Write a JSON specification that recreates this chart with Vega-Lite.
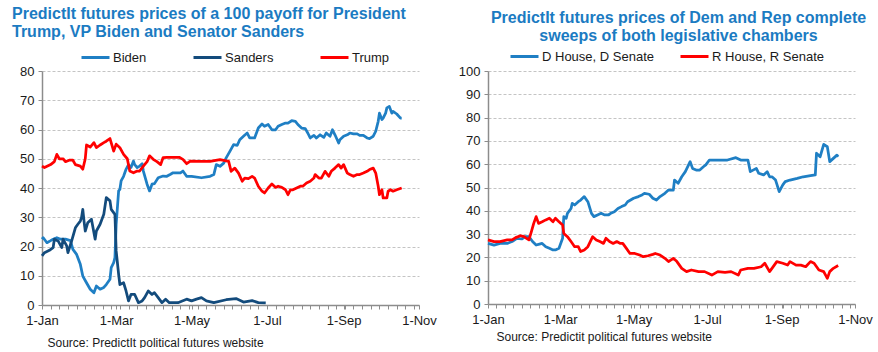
{
"$schema":"https://vega.github.io/schema/vega-lite/v6.json",
"background":"white",
"padding":{"left":12,"top":5,"right":4,"bottom":0},
"spacing":21,
"config":{
"font":"Liberation Sans",
"view":{"stroke":null},
"axis":{"labelFont":"Liberation Sans","labelFontSize":13,"labelColor":"#1a1a1a","domainColor":"#8c8c8c","tickColor":"#8c8c8c","titleFont":"Liberation Sans","titleFontWeight":"normal","titleFontSize":12,"titleColor":"#1a1a1a"},
"axisY":{"grid":true,"gridColor":"#c4c4c4","gridDash":[3,2],"tickSize":4,"labelPadding":4,"domainWidth":1.5},
"axisX":{"grid":false,"tickSize":4,"labelPadding":5,"labelOverlap":false,"labelFlush":false,"domainWidth":1.5},
"legend":{"symbolType":"stroke","symbolStrokeWidth":3,"symbolSize":784,"labelFont":"Liberation Sans","labelFontSize":13,"labelColor":"#1a1a1a","labelOffset":2,"direction":"horizontal","orient":"none","title":null},
"title":{"font":"Liberation Sans","fontSize":16,"fontWeight":"bold","color":"#1B7BC2","lineHeight":18.5}
},
"datasets":{
"L":[
{"d":"2020-01-01","s":"Biden","v":22.5},{"d":"2020-01-02","s":"Biden","v":23},{"d":"2020-01-05","s":"Biden","v":21.3},{"d":"2020-01-08","s":"Biden","v":22},{"d":"2020-01-10","s":"Biden","v":22.5},{"d":"2020-01-13","s":"Biden","v":23},{"d":"2020-01-16","s":"Biden","v":22.5},{"d":"2020-01-20","s":"Biden","v":22.5},{"d":"2020-01-24","s":"Biden","v":22},{"d":"2020-01-26","s":"Biden","v":19},{"d":"2020-01-29","s":"Biden","v":17.3},{"d":"2020-02-01","s":"Biden","v":13.9},{"d":"2020-02-03","s":"Biden","v":9.9},{"d":"2020-02-06","s":"Biden","v":7.6},{"d":"2020-02-09","s":"Biden","v":5.4},{"d":"2020-02-12","s":"Biden","v":4.2},{"d":"2020-02-14","s":"Biden","v":6.5},{"d":"2020-02-17","s":"Biden","v":5.4},{"d":"2020-02-20","s":"Biden","v":6},{"d":"2020-02-22","s":"Biden","v":7},{"d":"2020-02-25","s":"Biden","v":8.8},{"d":"2020-02-26","s":"Biden","v":12.8},{"d":"2020-02-28","s":"Biden","v":14.5},{"d":"2020-02-29","s":"Biden","v":16.2},{"d":"2020-03-01","s":"Biden","v":27.6},{"d":"2020-03-03","s":"Biden","v":39},{"d":"2020-03-04","s":"Biden","v":39.5},{"d":"2020-03-05","s":"Biden","v":42.4},{"d":"2020-03-07","s":"Biden","v":44},{"d":"2020-03-09","s":"Biden","v":46.4},{"d":"2020-03-11","s":"Biden","v":48},{"d":"2020-03-13","s":"Biden","v":47},{"d":"2020-03-15","s":"Biden","v":49.2},{"d":"2020-03-16","s":"Biden","v":48},{"d":"2020-03-18","s":"Biden","v":47},{"d":"2020-03-20","s":"Biden","v":47.5},{"d":"2020-03-22","s":"Biden","v":48.3},{"d":"2020-03-23","s":"Biden","v":45.8},{"d":"2020-03-26","s":"Biden","v":41.3},{"d":"2020-03-28","s":"Biden","v":39},{"d":"2020-03-30","s":"Biden","v":41.3},{"d":"2020-04-01","s":"Biden","v":41.5},{"d":"2020-04-04","s":"Biden","v":43.5},{"d":"2020-04-08","s":"Biden","v":44.1},{"d":"2020-04-11","s":"Biden","v":44},{"d":"2020-04-14","s":"Biden","v":44.7},{"d":"2020-04-16","s":"Biden","v":45.2},{"d":"2020-04-22","s":"Biden","v":45.2},{"d":"2020-04-24","s":"Biden","v":45.8},{"d":"2020-04-27","s":"Biden","v":44},{"d":"2020-05-01","s":"Biden","v":44},{"d":"2020-05-09","s":"Biden","v":43.5},{"d":"2020-05-16","s":"Biden","v":44},{"d":"2020-05-19","s":"Biden","v":44.6},{"d":"2020-05-21","s":"Biden","v":48},{"d":"2020-05-24","s":"Biden","v":47.4},{"d":"2020-05-27","s":"Biden","v":48.5},{"d":"2020-05-29","s":"Biden","v":50.3},{"d":"2020-06-01","s":"Biden","v":52.5},{"d":"2020-06-04","s":"Biden","v":54.8},{"d":"2020-06-07","s":"Biden","v":54.6},{"d":"2020-06-09","s":"Biden","v":56.5},{"d":"2020-06-12","s":"Biden","v":57.7},{"d":"2020-06-15","s":"Biden","v":58.8},{"d":"2020-06-17","s":"Biden","v":57.1},{"d":"2020-06-21","s":"Biden","v":57.1},{"d":"2020-06-24","s":"Biden","v":60.5},{"d":"2020-06-27","s":"Biden","v":61.9},{"d":"2020-06-29","s":"Biden","v":61.1},{"d":"2020-07-02","s":"Biden","v":61.7},{"d":"2020-07-05","s":"Biden","v":59.9},{"d":"2020-07-08","s":"Biden","v":59.9},{"d":"2020-07-10","s":"Biden","v":61.1},{"d":"2020-07-13","s":"Biden","v":61.7},{"d":"2020-07-16","s":"Biden","v":62.2},{"d":"2020-07-18","s":"Biden","v":62.2},{"d":"2020-07-21","s":"Biden","v":63},{"d":"2020-07-24","s":"Biden","v":62.8},{"d":"2020-07-26","s":"Biden","v":61.7},{"d":"2020-07-29","s":"Biden","v":60.5},{"d":"2020-08-01","s":"Biden","v":60.3},{"d":"2020-08-03","s":"Biden","v":58.8},{"d":"2020-08-05","s":"Biden","v":57.1},{"d":"2020-08-08","s":"Biden","v":58},{"d":"2020-08-10","s":"Biden","v":57.1},{"d":"2020-08-13","s":"Biden","v":58.2},{"d":"2020-08-16","s":"Biden","v":57.3},{"d":"2020-08-18","s":"Biden","v":58.8},{"d":"2020-08-21","s":"Biden","v":57.7},{"d":"2020-08-23","s":"Biden","v":59.9},{"d":"2020-08-25","s":"Biden","v":58.2},{"d":"2020-08-28","s":"Biden","v":55.4},{"d":"2020-08-29","s":"Biden","v":56.5},{"d":"2020-09-01","s":"Biden","v":57.7},{"d":"2020-09-04","s":"Biden","v":58.2},{"d":"2020-09-06","s":"Biden","v":58.8},{"d":"2020-09-09","s":"Biden","v":58.5},{"d":"2020-09-12","s":"Biden","v":58.5},{"d":"2020-09-14","s":"Biden","v":58},{"d":"2020-09-17","s":"Biden","v":58},{"d":"2020-09-20","s":"Biden","v":57.1},{"d":"2020-09-22","s":"Biden","v":56.9},{"d":"2020-09-25","s":"Biden","v":57.7},{"d":"2020-09-27","s":"Biden","v":59.4},{"d":"2020-09-29","s":"Biden","v":62.8},{"d":"2020-09-30","s":"Biden","v":65.6},{"d":"2020-10-02","s":"Biden","v":63.4},{"d":"2020-10-03","s":"Biden","v":63.9},{"d":"2020-10-05","s":"Biden","v":65.6},{"d":"2020-10-06","s":"Biden","v":67.4},{"d":"2020-10-08","s":"Biden","v":67.9},{"d":"2020-10-10","s":"Biden","v":65.6},{"d":"2020-10-11","s":"Biden","v":66.2},{"d":"2020-10-14","s":"Biden","v":65.3},{"d":"2020-10-17","s":"Biden","v":63.9},{"d":"2020-10-18","s":"Biden","v":63.9},
{"d":"2020-01-01","s":"Sanders","v":16.8},{"d":"2020-01-03","s":"Sanders","v":17.9},{"d":"2020-01-07","s":"Sanders","v":18.7},{"d":"2020-01-10","s":"Sanders","v":19.6},{"d":"2020-01-11","s":"Sanders","v":22.5},{"d":"2020-01-14","s":"Sanders","v":21.9},{"d":"2020-01-17","s":"Sanders","v":19.6},{"d":"2020-01-18","s":"Sanders","v":22.5},{"d":"2020-01-21","s":"Sanders","v":20.2},{"d":"2020-01-22","s":"Sanders","v":17.9},{"d":"2020-01-25","s":"Sanders","v":21.9},{"d":"2020-01-28","s":"Sanders","v":26.4},{"d":"2020-01-30","s":"Sanders","v":27.6},{"d":"2020-02-01","s":"Sanders","v":28.7},{"d":"2020-02-02","s":"Sanders","v":29.9},{"d":"2020-02-03","s":"Sanders","v":32.7},{"d":"2020-02-04","s":"Sanders","v":28.7},{"d":"2020-02-05","s":"Sanders","v":25.3},{"d":"2020-02-07","s":"Sanders","v":28.1},{"d":"2020-02-10","s":"Sanders","v":29.3},{"d":"2020-02-13","s":"Sanders","v":22.5},{"d":"2020-02-14","s":"Sanders","v":25.3},{"d":"2020-02-17","s":"Sanders","v":27.6},{"d":"2020-02-20","s":"Sanders","v":31},{"d":"2020-02-22","s":"Sanders","v":36.7},{"d":"2020-02-25","s":"Sanders","v":35.6},{"d":"2020-02-26","s":"Sanders","v":32.7},{"d":"2020-02-29","s":"Sanders","v":31},{"d":"2020-03-01","s":"Sanders","v":18.5},{"d":"2020-03-03","s":"Sanders","v":10.5},{"d":"2020-03-04","s":"Sanders","v":7},{"d":"2020-03-07","s":"Sanders","v":7.6},{"d":"2020-03-09","s":"Sanders","v":4.8},{"d":"2020-03-11","s":"Sanders","v":1.4},{"d":"2020-03-13","s":"Sanders","v":3.6},{"d":"2020-03-16","s":"Sanders","v":3.6},{"d":"2020-03-19","s":"Sanders","v":0.8},{"d":"2020-03-22","s":"Sanders","v":1.4},{"d":"2020-03-24","s":"Sanders","v":2.5},{"d":"2020-03-27","s":"Sanders","v":4.8},{"d":"2020-03-30","s":"Sanders","v":3.6},{"d":"2020-04-01","s":"Sanders","v":4.2},{"d":"2020-04-04","s":"Sanders","v":2.5},{"d":"2020-04-07","s":"Sanders","v":0.8},{"d":"2020-04-10","s":"Sanders","v":2},{"d":"2020-04-13","s":"Sanders","v":0.8},{"d":"2020-04-20","s":"Sanders","v":0.8},{"d":"2020-04-27","s":"Sanders","v":2},{"d":"2020-05-01","s":"Sanders","v":1.4},{"d":"2020-05-05","s":"Sanders","v":2},{"d":"2020-05-09","s":"Sanders","v":2.5},{"d":"2020-05-13","s":"Sanders","v":1.4},{"d":"2020-05-19","s":"Sanders","v":0.8},{"d":"2020-05-29","s":"Sanders","v":1.8},{"d":"2020-06-06","s":"Sanders","v":2.2},{"d":"2020-06-12","s":"Sanders","v":1},{"d":"2020-06-19","s":"Sanders","v":1.5},{"d":"2020-06-24","s":"Sanders","v":0.8},{"d":"2020-06-30","s":"Sanders","v":0.7},
{"d":"2020-01-01","s":"Trump","v":47.5},{"d":"2020-01-03","s":"Trump","v":47},{"d":"2020-01-08","s":"Trump","v":48},{"d":"2020-01-11","s":"Trump","v":49},{"d":"2020-01-13","s":"Trump","v":51.5},{"d":"2020-01-15","s":"Trump","v":50},{"d":"2020-01-18","s":"Trump","v":50},{"d":"2020-01-20","s":"Trump","v":49},{"d":"2020-01-23","s":"Trump","v":49.5},{"d":"2020-01-26","s":"Trump","v":49.5},{"d":"2020-01-28","s":"Trump","v":48},{"d":"2020-02-01","s":"Trump","v":47.5},{"d":"2020-02-03","s":"Trump","v":46.4},{"d":"2020-02-05","s":"Trump","v":50},{"d":"2020-02-06","s":"Trump","v":54.7},{"d":"2020-02-09","s":"Trump","v":54},{"d":"2020-02-12","s":"Trump","v":55.5},{"d":"2020-02-14","s":"Trump","v":53.8},{"d":"2020-02-17","s":"Trump","v":54.7},{"d":"2020-02-20","s":"Trump","v":55.5},{"d":"2020-02-22","s":"Trump","v":56},{"d":"2020-02-25","s":"Trump","v":56.9},{"d":"2020-02-28","s":"Trump","v":52.6},{"d":"2020-03-01","s":"Trump","v":55},{"d":"2020-03-04","s":"Trump","v":53.8},{"d":"2020-03-07","s":"Trump","v":51.5},{"d":"2020-03-10","s":"Trump","v":50},{"d":"2020-03-12","s":"Trump","v":45.8},{"d":"2020-03-15","s":"Trump","v":45.2},{"d":"2020-03-18","s":"Trump","v":45.8},{"d":"2020-03-20","s":"Trump","v":45.8},{"d":"2020-03-23","s":"Trump","v":47.5},{"d":"2020-03-26","s":"Trump","v":49},{"d":"2020-03-28","s":"Trump","v":51},{"d":"2020-03-31","s":"Trump","v":49.8},{"d":"2020-04-03","s":"Trump","v":49},{"d":"2020-04-06","s":"Trump","v":48},{"d":"2020-04-08","s":"Trump","v":50.4},{"d":"2020-04-11","s":"Trump","v":50.5},{"d":"2020-04-16","s":"Trump","v":50.5},{"d":"2020-04-21","s":"Trump","v":50.5},{"d":"2020-04-24","s":"Trump","v":49.8},{"d":"2020-04-27","s":"Trump","v":48.3},{"d":"2020-04-30","s":"Trump","v":49.2},{"d":"2020-05-08","s":"Trump","v":49.1},{"d":"2020-05-16","s":"Trump","v":49.1},{"d":"2020-05-24","s":"Trump","v":49.7},{"d":"2020-05-31","s":"Trump","v":49.1},{"d":"2020-06-02","s":"Trump","v":45.7},{"d":"2020-06-05","s":"Trump","v":46.8},{"d":"2020-06-08","s":"Trump","v":45.1},{"d":"2020-06-11","s":"Trump","v":42.3},{"d":"2020-06-13","s":"Trump","v":43.4},{"d":"2020-06-16","s":"Trump","v":43.2},{"d":"2020-06-19","s":"Trump","v":44},{"d":"2020-06-21","s":"Trump","v":43.4},{"d":"2020-06-24","s":"Trump","v":40.6},{"d":"2020-06-27","s":"Trump","v":38.9},{"d":"2020-06-29","s":"Trump","v":38.3},{"d":"2020-07-02","s":"Trump","v":40},{"d":"2020-07-05","s":"Trump","v":41.4},{"d":"2020-07-08","s":"Trump","v":40.2},{"d":"2020-07-10","s":"Trump","v":40.6},{"d":"2020-07-13","s":"Trump","v":40.2},{"d":"2020-07-16","s":"Trump","v":39.4},{"d":"2020-07-18","s":"Trump","v":37.7},{"d":"2020-07-20","s":"Trump","v":39.4},{"d":"2020-07-22","s":"Trump","v":39.4},{"d":"2020-07-25","s":"Trump","v":40},{"d":"2020-07-28","s":"Trump","v":40.6},{"d":"2020-07-30","s":"Trump","v":40.6},{"d":"2020-08-02","s":"Trump","v":41.7},{"d":"2020-08-05","s":"Trump","v":42.3},{"d":"2020-08-08","s":"Trump","v":43.4},{"d":"2020-08-09","s":"Trump","v":44.6},{"d":"2020-08-12","s":"Trump","v":43.4},{"d":"2020-08-14","s":"Trump","v":43.4},{"d":"2020-08-17","s":"Trump","v":45.7},{"d":"2020-08-20","s":"Trump","v":44},{"d":"2020-08-22","s":"Trump","v":45.7},{"d":"2020-08-25","s":"Trump","v":46.8},{"d":"2020-08-28","s":"Trump","v":48},{"d":"2020-08-30","s":"Trump","v":46.8},{"d":"2020-09-01","s":"Trump","v":48},{"d":"2020-09-04","s":"Trump","v":45.1},{"d":"2020-09-06","s":"Trump","v":44.6},{"d":"2020-09-09","s":"Trump","v":44},{"d":"2020-09-12","s":"Trump","v":44.6},{"d":"2020-09-14","s":"Trump","v":44.6},{"d":"2020-09-17","s":"Trump","v":45.1},{"d":"2020-09-20","s":"Trump","v":45.7},{"d":"2020-09-22","s":"Trump","v":46.3},{"d":"2020-09-25","s":"Trump","v":46.8},{"d":"2020-09-27","s":"Trump","v":45.1},{"d":"2020-09-29","s":"Trump","v":40.6},{"d":"2020-09-30","s":"Trump","v":37.7},{"d":"2020-10-02","s":"Trump","v":39.4},{"d":"2020-10-03","s":"Trump","v":36.6},{"d":"2020-10-06","s":"Trump","v":36.6},{"d":"2020-10-07","s":"Trump","v":38.9},{"d":"2020-10-09","s":"Trump","v":39.4},{"d":"2020-10-11","s":"Trump","v":38.9},{"d":"2020-10-14","s":"Trump","v":39.4},{"d":"2020-10-18","s":"Trump","v":40}
],
"R":[
{"d":"2020-01-01","s":"D House, D Senate","v":26},{"d":"2020-01-06","s":"D House, D Senate","v":25.3},{"d":"2020-01-11","s":"D House, D Senate","v":26},{"d":"2020-01-17","s":"D House, D Senate","v":26},{"d":"2020-01-21","s":"D House, D Senate","v":26.8},{"d":"2020-01-25","s":"D House, D Senate","v":28.2},{"d":"2020-01-29","s":"D House, D Senate","v":27.9},{"d":"2020-02-01","s":"D House, D Senate","v":28.9},{"d":"2020-02-04","s":"D House, D Senate","v":28.9},{"d":"2020-02-07","s":"D House, D Senate","v":26.8},{"d":"2020-02-10","s":"D House, D Senate","v":25.3},{"d":"2020-02-12","s":"D House, D Senate","v":25.6},{"d":"2020-02-15","s":"D House, D Senate","v":26},{"d":"2020-02-18","s":"D House, D Senate","v":24.6},{"d":"2020-02-21","s":"D House, D Senate","v":23.9},{"d":"2020-02-24","s":"D House, D Senate","v":23.2},{"d":"2020-02-26","s":"D House, D Senate","v":23.2},{"d":"2020-02-29","s":"D House, D Senate","v":23.9},{"d":"2020-03-03","s":"D House, D Senate","v":28.2},{"d":"2020-03-04","s":"D House, D Senate","v":37.5},{"d":"2020-03-06","s":"D House, D Senate","v":36.8},{"d":"2020-03-07","s":"D House, D Senate","v":38.9},{"d":"2020-03-10","s":"D House, D Senate","v":41},{"d":"2020-03-11","s":"D House, D Senate","v":43.2},{"d":"2020-03-13","s":"D House, D Senate","v":42.5},{"d":"2020-03-16","s":"D House, D Senate","v":43.9},{"d":"2020-03-18","s":"D House, D Senate","v":44.6},{"d":"2020-03-21","s":"D House, D Senate","v":46.1},{"d":"2020-03-24","s":"D House, D Senate","v":43.9},{"d":"2020-03-27","s":"D House, D Senate","v":38.9},{"d":"2020-03-29","s":"D House, D Senate","v":37.5},{"d":"2020-04-01","s":"D House, D Senate","v":38.2},{"d":"2020-04-04","s":"D House, D Senate","v":38.9},{"d":"2020-04-07","s":"D House, D Senate","v":38.2},{"d":"2020-04-10","s":"D House, D Senate","v":38.2},{"d":"2020-04-12","s":"D House, D Senate","v":38.9},{"d":"2020-04-15","s":"D House, D Senate","v":39.6},{"d":"2020-04-18","s":"D House, D Senate","v":41},{"d":"2020-04-21","s":"D House, D Senate","v":41.8},{"d":"2020-04-24","s":"D House, D Senate","v":42.5},{"d":"2020-04-26","s":"D House, D Senate","v":43.9},{"d":"2020-05-01","s":"D House, D Senate","v":45.4},{"d":"2020-05-05","s":"D House, D Senate","v":46.1},{"d":"2020-05-08","s":"D House, D Senate","v":46.8},{"d":"2020-05-10","s":"D House, D Senate","v":47.5},{"d":"2020-05-14","s":"D House, D Senate","v":47.1},{"d":"2020-05-17","s":"D House, D Senate","v":45.4},{"d":"2020-05-20","s":"D House, D Senate","v":44.6},{"d":"2020-05-23","s":"D House, D Senate","v":46.1},{"d":"2020-05-27","s":"D House, D Senate","v":47.5},{"d":"2020-05-30","s":"D House, D Senate","v":48.9},{"d":"2020-06-03","s":"D House, D Senate","v":48.9},{"d":"2020-06-04","s":"D House, D Senate","v":53.2},{"d":"2020-06-07","s":"D House, D Senate","v":51.8},{"d":"2020-06-10","s":"D House, D Senate","v":54.6},{"d":"2020-06-13","s":"D House, D Senate","v":56.8},{"d":"2020-06-17","s":"D House, D Senate","v":61.1},{"d":"2020-06-19","s":"D House, D Senate","v":58.2},{"d":"2020-06-22","s":"D House, D Senate","v":57.5},{"d":"2020-06-25","s":"D House, D Senate","v":57.5},{"d":"2020-06-28","s":"D House, D Senate","v":58.9},{"d":"2020-06-30","s":"D House, D Senate","v":59.7},{"d":"2020-07-03","s":"D House, D Senate","v":61.8},{"d":"2020-07-07","s":"D House, D Senate","v":61.8},{"d":"2020-07-13","s":"D House, D Senate","v":61.8},{"d":"2020-07-18","s":"D House, D Senate","v":61.8},{"d":"2020-07-25","s":"D House, D Senate","v":62.8},{"d":"2020-07-29","s":"D House, D Senate","v":61.8},{"d":"2020-08-04","s":"D House, D Senate","v":61.8},{"d":"2020-08-06","s":"D House, D Senate","v":56.8},{"d":"2020-08-11","s":"D House, D Senate","v":58.2},{"d":"2020-08-13","s":"D House, D Senate","v":56.1},{"d":"2020-08-17","s":"D House, D Senate","v":55.4},{"d":"2020-08-20","s":"D House, D Senate","v":56.8},{"d":"2020-08-22","s":"D House, D Senate","v":54.6},{"d":"2020-08-24","s":"D House, D Senate","v":54.6},{"d":"2020-08-27","s":"D House, D Senate","v":53.2},{"d":"2020-08-30","s":"D House, D Senate","v":48.2},{"d":"2020-09-02","s":"D House, D Senate","v":51.1},{"d":"2020-09-04","s":"D House, D Senate","v":52.5},{"d":"2020-09-08","s":"D House, D Senate","v":53.2},{"d":"2020-09-14","s":"D House, D Senate","v":53.9},{"d":"2020-09-19","s":"D House, D Senate","v":54.6},{"d":"2020-09-25","s":"D House, D Senate","v":55.1},{"d":"2020-09-29","s":"D House, D Senate","v":55.4},{"d":"2020-09-30","s":"D House, D Senate","v":64.7},{"d":"2020-10-03","s":"D House, D Senate","v":63.2},{"d":"2020-10-06","s":"D House, D Senate","v":68.5},{"d":"2020-10-09","s":"D House, D Senate","v":67.5},{"d":"2020-10-11","s":"D House, D Senate","v":61.1},{"d":"2020-10-14","s":"D House, D Senate","v":62.5},{"d":"2020-10-17","s":"D House, D Senate","v":63.9},{"d":"2020-10-18","s":"D House, D Senate","v":63.2},
{"d":"2020-01-01","s":"R House, R Senate","v":27.5},{"d":"2020-01-06","s":"R House, R Senate","v":26.8},{"d":"2020-01-11","s":"R House, R Senate","v":26.8},{"d":"2020-01-17","s":"R House, R Senate","v":27.5},{"d":"2020-01-21","s":"R House, R Senate","v":27.5},{"d":"2020-01-24","s":"R House, R Senate","v":28.5},{"d":"2020-01-28","s":"R House, R Senate","v":29.3},{"d":"2020-01-31","s":"R House, R Senate","v":28.9},{"d":"2020-02-02","s":"R House, R Senate","v":28.2},{"d":"2020-02-04","s":"R House, R Senate","v":27.5},{"d":"2020-02-06","s":"R House, R Senate","v":31},{"d":"2020-02-08","s":"R House, R Senate","v":34.6},{"d":"2020-02-10","s":"R House, R Senate","v":37.5},{"d":"2020-02-12","s":"R House, R Senate","v":34.6},{"d":"2020-02-15","s":"R House, R Senate","v":35.3},{"d":"2020-02-18","s":"R House, R Senate","v":36.1},{"d":"2020-02-21","s":"R House, R Senate","v":36.8},{"d":"2020-02-24","s":"R House, R Senate","v":35.3},{"d":"2020-02-26","s":"R House, R Senate","v":36.8},{"d":"2020-02-29","s":"R House, R Senate","v":35.3},{"d":"2020-03-03","s":"R House, R Senate","v":33.9},{"d":"2020-03-04","s":"R House, R Senate","v":30.3},{"d":"2020-03-07","s":"R House, R Senate","v":28.9},{"d":"2020-03-10","s":"R House, R Senate","v":26.8},{"d":"2020-03-13","s":"R House, R Senate","v":24.6},{"d":"2020-03-16","s":"R House, R Senate","v":24.6},{"d":"2020-03-18","s":"R House, R Senate","v":22.5},{"d":"2020-03-21","s":"R House, R Senate","v":23.2},{"d":"2020-03-24","s":"R House, R Senate","v":24.6},{"d":"2020-03-28","s":"R House, R Senate","v":28.9},{"d":"2020-03-31","s":"R House, R Senate","v":27.5},{"d":"2020-04-03","s":"R House, R Senate","v":26.8},{"d":"2020-04-06","s":"R House, R Senate","v":26},{"d":"2020-04-08","s":"R House, R Senate","v":28.2},{"d":"2020-04-11","s":"R House, R Senate","v":26.8},{"d":"2020-04-14","s":"R House, R Senate","v":26},{"d":"2020-04-17","s":"R House, R Senate","v":26.8},{"d":"2020-04-20","s":"R House, R Senate","v":26},{"d":"2020-04-22","s":"R House, R Senate","v":26},{"d":"2020-04-25","s":"R House, R Senate","v":23.9},{"d":"2020-04-28","s":"R House, R Senate","v":21.7},{"d":"2020-05-02","s":"R House, R Senate","v":21.7},{"d":"2020-05-06","s":"R House, R Senate","v":21},{"d":"2020-05-09","s":"R House, R Senate","v":20.3},{"d":"2020-05-13","s":"R House, R Senate","v":20.7},{"d":"2020-05-17","s":"R House, R Senate","v":21.3},{"d":"2020-05-19","s":"R House, R Senate","v":21.7},{"d":"2020-05-23","s":"R House, R Senate","v":21},{"d":"2020-05-27","s":"R House, R Senate","v":19.6},{"d":"2020-05-30","s":"R House, R Senate","v":18.2},{"d":"2020-06-03","s":"R House, R Senate","v":19.6},{"d":"2020-06-06","s":"R House, R Senate","v":18.2},{"d":"2020-06-10","s":"R House, R Senate","v":15.3},{"d":"2020-06-14","s":"R House, R Senate","v":13.9},{"d":"2020-06-18","s":"R House, R Senate","v":14.6},{"d":"2020-06-24","s":"R House, R Senate","v":13.9},{"d":"2020-06-29","s":"R House, R Senate","v":13.9},{"d":"2020-07-05","s":"R House, R Senate","v":12.4},{"d":"2020-07-10","s":"R House, R Senate","v":13.9},{"d":"2020-07-16","s":"R House, R Senate","v":13.6},{"d":"2020-07-21","s":"R House, R Senate","v":13.9},{"d":"2020-07-27","s":"R House, R Senate","v":12.4},{"d":"2020-07-29","s":"R House, R Senate","v":14.6},{"d":"2020-08-04","s":"R House, R Senate","v":15.3},{"d":"2020-08-09","s":"R House, R Senate","v":15.3},{"d":"2020-08-15","s":"R House, R Senate","v":16},{"d":"2020-08-18","s":"R House, R Senate","v":17.5},{"d":"2020-08-22","s":"R House, R Senate","v":13.9},{"d":"2020-08-24","s":"R House, R Senate","v":15.3},{"d":"2020-08-28","s":"R House, R Senate","v":18.2},{"d":"2020-09-02","s":"R House, R Senate","v":17.5},{"d":"2020-09-06","s":"R House, R Senate","v":16.7},{"d":"2020-09-08","s":"R House, R Senate","v":18.2},{"d":"2020-09-13","s":"R House, R Senate","v":16.7},{"d":"2020-09-17","s":"R House, R Senate","v":16.7},{"d":"2020-09-21","s":"R House, R Senate","v":16},{"d":"2020-09-25","s":"R House, R Senate","v":18.2},{"d":"2020-09-28","s":"R House, R Senate","v":17.5},{"d":"2020-10-02","s":"R House, R Senate","v":14.6},{"d":"2020-10-06","s":"R House, R Senate","v":13.9},{"d":"2020-10-09","s":"R House, R Senate","v":11},{"d":"2020-10-11","s":"R House, R Senate","v":13.9},{"d":"2020-10-14","s":"R House, R Senate","v":15.3},{"d":"2020-10-18","s":"R House, R Senate","v":16.5}
]
},
"hconcat":[
{
"width":377,"height":234,
"title":{"text":["PredictIt futures prices of a 100 payoff for President","Trump, VP Biden and Senator Sanders"],"anchor":"start","frame":"group","dx":-30,"offset":2},
"data":{"name":"L","format":{"parse":{"d":"date:'%Y-%m-%d'"}}},
"mark":{"type":"line","strokeWidth":2.75,"strokeJoin":"round"},
"encoding":{
"x":{"field":"d","type":"temporal","scale":{"domain":[{"year":2020,"month":1,"date":1},{"year":2020,"month":11,"date":1}]},
"axis":{"values":[{"year":2020,"month":1,"date":1},{"year":2020,"month":1,"date":8},{"year":2020,"month":1,"date":15},{"year":2020,"month":1,"date":22},{"year":2020,"month":1,"date":29},{"year":2020,"month":2,"date":5},{"year":2020,"month":2,"date":12},{"year":2020,"month":2,"date":19},{"year":2020,"month":2,"date":26},{"year":2020,"month":3,"date":1},{"year":2020,"month":3,"date":4},{"year":2020,"month":3,"date":11},{"year":2020,"month":3,"date":18},{"year":2020,"month":3,"date":25},{"year":2020,"month":4,"date":1},{"year":2020,"month":4,"date":8},{"year":2020,"month":4,"date":15},{"year":2020,"month":4,"date":22},{"year":2020,"month":4,"date":29},{"year":2020,"month":5,"date":1},{"year":2020,"month":5,"date":6},{"year":2020,"month":5,"date":13},{"year":2020,"month":5,"date":20},{"year":2020,"month":5,"date":27},{"year":2020,"month":6,"date":3},{"year":2020,"month":6,"date":10},{"year":2020,"month":6,"date":17},{"year":2020,"month":6,"date":24},{"year":2020,"month":7,"date":1},{"year":2020,"month":7,"date":8},{"year":2020,"month":7,"date":15},{"year":2020,"month":7,"date":22},{"year":2020,"month":7,"date":29},{"year":2020,"month":8,"date":5},{"year":2020,"month":8,"date":12},{"year":2020,"month":8,"date":19},{"year":2020,"month":8,"date":26},{"year":2020,"month":9,"date":1},{"year":2020,"month":9,"date":2},{"year":2020,"month":9,"date":9},{"year":2020,"month":9,"date":16},{"year":2020,"month":9,"date":23},{"year":2020,"month":9,"date":30},{"year":2020,"month":10,"date":7},{"year":2020,"month":10,"date":14},{"year":2020,"month":10,"date":21},{"year":2020,"month":10,"date":28},{"year":2020,"month":11,"date":1}],
"labelExpr":"date(datum.value) == 1 && month(datum.value) % 2 == 0 ? timeFormat(datum.value, '%-d-%b') : ''",
"title":"Source: PredictIt political futures website","titleAnchor":"start","titleAlign":"left","titleX":5,"titleY":37,"titleBaseline":"middle"}},
"y":{"field":"v","type":"quantitative","scale":{"domain":[0,80]},"axis":{"values":[0,10,20,30,40,50,60,70,80],"title":null}},
"color":{"field":"s","type":"nominal","scale":{"domain":["Biden","Sanders","Trump"],"range":["#1F7FC4","#134B7C","#FF0000"]},"legend":{"legendX":38,"legendY":-29,"columnPadding":40,"gridAlign":"none"}}
}
},
{
"width":367,"height":233,
"title":{"text":["PredictIt futures prices of Dem and Rep complete","sweeps of both legislative chambers"],"anchor":"middle","frame":"group","dx":7,"offset":-3},
"data":{"name":"R","format":{"parse":{"d":"date:'%Y-%m-%d'"}}},
"mark":{"type":"line","strokeWidth":2.75,"strokeJoin":"round"},
"encoding":{
"x":{"field":"d","type":"temporal","scale":{"domain":[{"year":2020,"month":1,"date":1},{"year":2020,"month":11,"date":1}]},
"axis":{"values":[{"year":2020,"month":1,"date":1},{"year":2020,"month":1,"date":8},{"year":2020,"month":1,"date":15},{"year":2020,"month":1,"date":22},{"year":2020,"month":1,"date":29},{"year":2020,"month":2,"date":5},{"year":2020,"month":2,"date":12},{"year":2020,"month":2,"date":19},{"year":2020,"month":2,"date":26},{"year":2020,"month":3,"date":1},{"year":2020,"month":3,"date":4},{"year":2020,"month":3,"date":11},{"year":2020,"month":3,"date":18},{"year":2020,"month":3,"date":25},{"year":2020,"month":4,"date":1},{"year":2020,"month":4,"date":8},{"year":2020,"month":4,"date":15},{"year":2020,"month":4,"date":22},{"year":2020,"month":4,"date":29},{"year":2020,"month":5,"date":1},{"year":2020,"month":5,"date":6},{"year":2020,"month":5,"date":13},{"year":2020,"month":5,"date":20},{"year":2020,"month":5,"date":27},{"year":2020,"month":6,"date":3},{"year":2020,"month":6,"date":10},{"year":2020,"month":6,"date":17},{"year":2020,"month":6,"date":24},{"year":2020,"month":7,"date":1},{"year":2020,"month":7,"date":8},{"year":2020,"month":7,"date":15},{"year":2020,"month":7,"date":22},{"year":2020,"month":7,"date":29},{"year":2020,"month":8,"date":5},{"year":2020,"month":8,"date":12},{"year":2020,"month":8,"date":19},{"year":2020,"month":8,"date":26},{"year":2020,"month":9,"date":1},{"year":2020,"month":9,"date":2},{"year":2020,"month":9,"date":9},{"year":2020,"month":9,"date":16},{"year":2020,"month":9,"date":23},{"year":2020,"month":9,"date":30},{"year":2020,"month":10,"date":7},{"year":2020,"month":10,"date":14},{"year":2020,"month":10,"date":21},{"year":2020,"month":10,"date":28},{"year":2020,"month":11,"date":1}],
"labelExpr":"date(datum.value) == 1 && month(datum.value) % 2 == 0 ? timeFormat(datum.value, '%-d-%b') : ''",
"title":"Source: Predictit political futures website","titleAnchor":"start","titleAlign":"left","titleX":8,"titleY":32,"titleBaseline":"middle"}},
"y":{"field":"v","type":"quantitative","scale":{"domain":[0,100]},"axis":{"values":[0,10,20,30,40,50,60,70,80,90,100],"title":null}},
"color":{"field":"s","type":"nominal","scale":{"domain":["D House, D Senate","R House, R Senate"],"range":["#1F7FC4","#FF0000"]},"legend":{"legendX":21,"legendY":-30,"columnPadding":19,"gridAlign":"none"}}
}
}
],
"resolve":{"scale":{"color":"independent"}}
}
